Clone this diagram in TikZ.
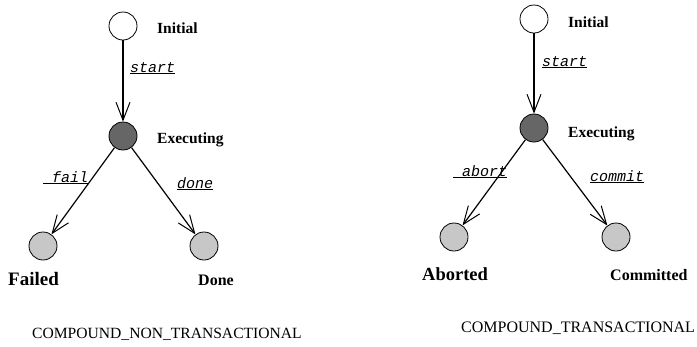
\documentclass[tikz,border=0pt]{standalone}
\usepackage{fontspec}
\setmainfont{Liberation Serif}
\setmonofont{Liberation Mono}
\usetikzlibrary{arrows.meta}
\newcommand{\fsz}[1]{\fontsize{#1}{#1}\selectfont}
\begin{document}
\begin{tikzpicture}[x=1pt,y=-1pt,
  state/.style={circle,draw,line width=0.8pt,minimum size=28pt,inner sep=0pt},
  startstate/.style={state,fill=white},
  busystate/.style={state,fill=black!60},
  endstate/.style={state,fill=black!22},
  statelabel/.style={font=\bfseries\fsz{15.5},inner sep=0pt,anchor=base west},
  eventlabel/.style={font=\ttfamily\itshape\fsz{15},inner sep=0pt,anchor=base west},
  trans/.style={line width=1.2pt,-{Straight Barb[length=18pt,width=14pt,line width=1pt]}},
  captext/.style={inner sep=0pt,anchor=base west}]
\useasboundingbox (0,0) rectangle (697,346);

% ---- compound, non-transactional ----
\node[startstate] (i1) at (123,26) {};
\node[busystate]  (e1) at (123,136) {};
\node[endstate]   (f1) at (43,246) {};
\node[endstate]   (d1) at (204,246) {};

\draw[trans] (i1) -- (e1);
\draw[trans] (e1) -- (f1);
\draw[trans] (e1) -- (d1);

\node[statelabel] (i1l) at (157,33) {Initial};
\node[statelabel] (e1l) at (157,143) {Executing};
\node[statelabel,font=\bfseries\fsz{19}] (f1l) at (8,285) {Failed};
\node[statelabel,font=\bfseries\fsz{16}] (d1l) at (198,285) {Done};

\node[eventlabel] (s1) at (130,72) {\underline{start}};
\node[eventlabel] (fl) at (43,182) {\underline{\hspace{9pt}fail}};
\node[eventlabel] (dn) at (177,188) {\underline{done}};

\node[captext,font=\fsz{15.6}] (c1) at (32,338) {COMPOUND\_NON\_TRANSACTIONAL};

% ---- compound, transactional ----
\node[startstate] (i2) at (534,19) {};
\node[busystate]  (e2) at (534,128) {};
\node[endstate]   (a2) at (454,237) {};
\node[endstate]   (m2) at (616,237) {};

\draw[trans] (i2) -- (e2);
\draw[trans] (e2) -- (a2);
\draw[trans] (e2) -- (m2);

\node[statelabel] (i2l) at (568,27) {Initial};
\node[statelabel] (e2l) at (568,137) {Executing};
\node[statelabel,font=\bfseries\fsz{18.5}] (a2l) at (422,280) {Aborted};
\node[statelabel,font=\bfseries\fsz{16}] (m2l) at (610,280) {Committed};

\node[eventlabel] (s2) at (542,66) {\underline{start}};
\node[eventlabel] (ab) at (453,176) {\underline{\hspace{9pt}abort}};
\node[eventlabel] (cm) at (590,181) {\underline{commit}};

\node[captext,font=\fsz{16}] (c2) at (461,332) {COMPOUND\_TRANSACTIONAL};
\end{tikzpicture}
\end{document}
